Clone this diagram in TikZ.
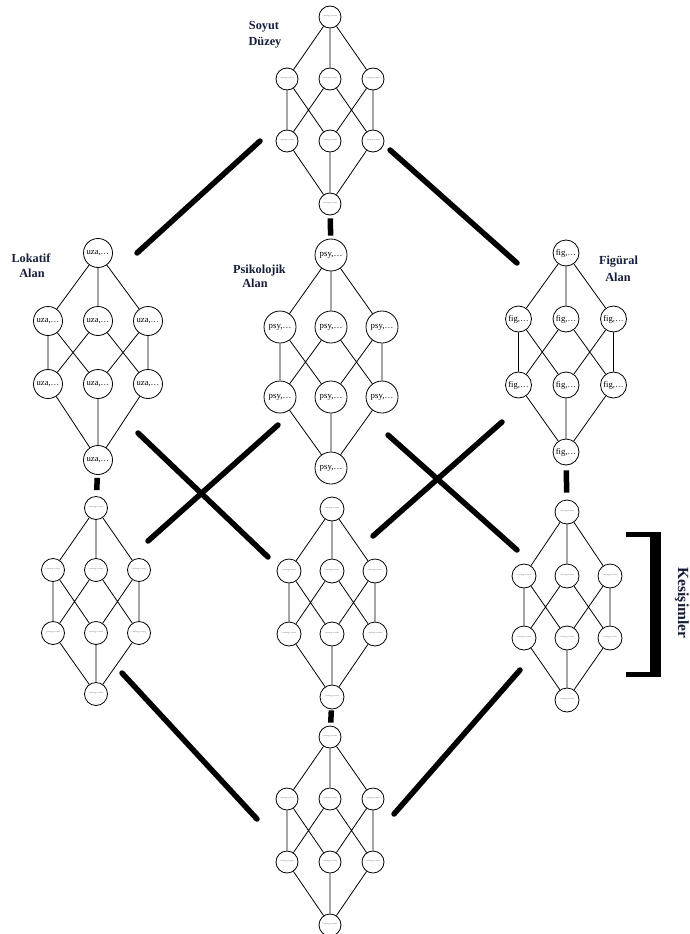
\documentclass[tikz,border=0pt]{standalone}
\usepackage{fontspec}
\setmainfont{Liberation Serif}
\definecolor{lab}{RGB}{22,30,58}
\tikzset{
  lnode/.style={circle, draw, line width=0.8pt, fill=white, inner sep=0pt},
  latedge/.style={line width=0.8pt},
  bigbar/.style={line width=5.5pt, line cap=round},
  lbl/.style={font=\fontsize{12.3}{14}\selectfont\bfseries, text=lab, align=center, inner sep=0pt},
}
\newcommand\tinytxt{{\fontsize{4.5}{5}\selectfont ......,......}}
\newcommand\uzatxt{{\fontsize{8.6}{9}\selectfont uza,\ldots}}
\newcommand\psytxt{{\fontsize{8.8}{9}\selectfont psy,\ldots}}
\newcommand\figtxt{{\fontsize{8.6}{9}\selectfont fig,\ldots}}
% #1 prefix, #2 cx, #3 dx, #4..#7 row y, #8 diameter, #9 text
\newcommand\lattice[9]{%
  \node[lnode, minimum size=#8pt] (#1t)  at (#2,#4) {#9};
  \node[lnode, minimum size=#8pt] (#1a1) at (#2-#3,#5) {#9};
  \node[lnode, minimum size=#8pt] (#1a2) at (#2,#5) {#9};
  \node[lnode, minimum size=#8pt] (#1a3) at (#2+#3,#5) {#9};
  \node[lnode, minimum size=#8pt] (#1b1) at (#2-#3,#6) {#9};
  \node[lnode, minimum size=#8pt] (#1b2) at (#2,#6) {#9};
  \node[lnode, minimum size=#8pt] (#1b3) at (#2+#3,#6) {#9};
  \node[lnode, minimum size=#8pt] (#1u)  at (#2,#7) {#9};
  \draw[latedge] (#1t) -- (#1a1) (#1t) -- (#1a2) (#1t) -- (#1a3)
    (#1a1) -- (#1b1) (#1a1) -- (#1b2)
    (#1a2) -- (#1b1) (#1a2) -- (#1b3)
    (#1a3) -- (#1b2) (#1a3) -- (#1b3)
    (#1b1) -- (#1u) (#1b2) -- (#1u) (#1b3) -- (#1u);
}
\begin{document}
\begin{tikzpicture}[x=1pt, y=-1pt]
\useasboundingbox (0,0) rectangle (690,934);
% lattices
\lattice{S}{330}{43}{17}{79}{141}{204}{22}{\tinytxt}
\lattice{L}{98}{50}{253}{321}{384}{460}{29}{\uzatxt}
\lattice{P}{331}{51}{255}{327}{397}{468}{32}{\psytxt}
\lattice{F}{566}{47.5}{253}{319}{385}{452}{26}{\figtxt}
\lattice{LL}{96}{43}{508}{570}{633}{694}{23}{\tinytxt}
\lattice{LM}{332}{43}{509}{571}{634}{697}{24}{\tinytxt}
\lattice{LR}{567}{43}{512}{576}{638}{700}{24}{\tinytxt}
\lattice{B}{330}{43}{737}{799}{862}{925}{22}{\tinytxt}
% labels
\node[lbl] (soyut) at (264,27) {Soyut};
\node[lbl] (duzey) at (265,43) {Düzey};
\node[lbl] (lok1) at (31,258) {Lokatif};
\node[lbl] (lok2) at (32,273) {Alan};
\node[lbl] (psi1) at (259.5,271) {Psikolojik};
\node[lbl] (psi2) at (255,283) {Alan};
\node[lbl] (fig1) at (618.5,262) {Figüral};
\node[lbl] (fig2) at (618,277) {Alan};
\node[lbl, font=\fontsize{15.5}{17}\selectfont\bfseries, rotate=-90] (kes) at (682,603) {Kesişimler};
% short vertical links
\draw[bigbar, line cap=butt, shorten <=3pt, shorten >=3pt] (Su) -- (Pt);
\draw[bigbar, line cap=butt, shorten <=3pt, shorten >=6pt] (Lu) -- (LLt);
\draw[bigbar, line cap=butt, shorten <=5pt, shorten >=7pt] (Fu) -- (LRt);
\draw[bigbar, line cap=butt, shorten <=1pt, shorten >=3pt] (LMu) -- (Bt);
% long thick lines
\coordinate (s1a) at (260,141); \coordinate (s1b) at (137,253);
\coordinate (s2a) at (390,150); \coordinate (s2b) at (517,263);
\coordinate (x1a) at (138,433); \coordinate (x1b) at (268,557);
\coordinate (x2a) at (148,541); \coordinate (x2b) at (278,425);
\coordinate (x3a) at (388,435); \coordinate (x3b) at (517,550);
\coordinate (x4a) at (373,536); \coordinate (x4b) at (502,422);
\coordinate (b1a) at (122,673); \coordinate (b1b) at (257,819);
\coordinate (b2a) at (394,814); \coordinate (b2b) at (520,670);
\draw[bigbar] (s1a) -- (s1b);
\draw[bigbar] (s2a) -- (s2b);
\draw[bigbar] (x1a) -- (x1b);
\draw[bigbar] (x2a) -- (x2b);
\draw[bigbar] (x3a) -- (x3b);
\draw[bigbar] (x4a) -- (x4b);
\draw[bigbar] (b1a) -- (b1b);
\draw[bigbar] (b2a) -- (b2b);
% bracket
\fill (626,531.5) rectangle (661,536.5);
\fill (649.5,531.5) rectangle (661,677);
\fill (626,672) rectangle (661,677);
\end{tikzpicture}
\end{document}
